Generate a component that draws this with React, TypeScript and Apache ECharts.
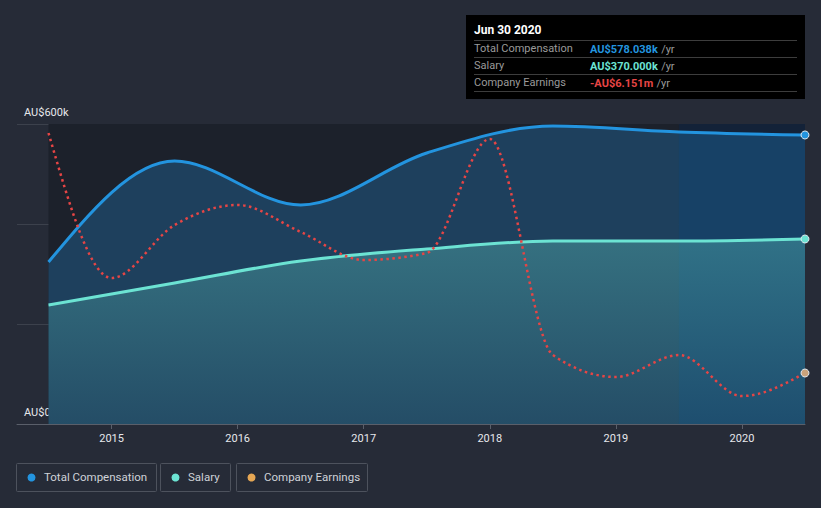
import React, { useEffect, useRef } from "react";
import * as echarts from "echarts";

// Fiscal years end June 30
const fyEnds = [2014.5, 2015.5, 2016.5, 2017.5, 2018.5, 2019.5, 2020.5];
const totalComp = [324, 526, 438, 542, 596, 584, 578.038]; // AU$k
const salary = [238, 282, 326, 350, 366, 366, 370]; // AU$k
// Company earnings, half-yearly
const earnPeriods = [2014.5, 2015, 2015.5, 2016, 2016.5, 2017, 2017.5, 2018, 2018.5, 2019, 2019.5, 2020, 2020.5];
const earnings = [5.85, -1.4, 1.25, 2.25, 0.9, -0.5, -0.15, 5.55, -5.25, -6.35, -5.25, -7.3, -6.151]; // AU$m
const yearTicks = [2015, 2016, 2017, 2018, 2019, 2020];
const yLabels: Record<number, string> = { 0: "AU$0", 600: "AU$600k" };

const BG = "#262b37";
const BLUE = "#2394df";
const TEAL = "#6ce3d3";
const RED = "#e64545";
const ORANGE = "#e6a754";
const FONT = "Roboto, 'Noto Sans', sans-serif";

function pairs(xs: number[], ys: number[]) {
  return xs.map((x, i) => [x, ys[i]]);
}

// monotone-x cubic path through pixel points
function monotonePath(pts: number[][]): string {
  const n = pts.length;
  if (n < 2) return "";
  const sign = (v: number) => (v < 0 ? -1 : 1);
  const tang: number[] = new Array(n).fill(0);
  const slope = (i: number) => (pts[i + 1][1] - pts[i][1]) / (pts[i + 1][0] - pts[i][0]);
  for (let i = 1; i < n - 1; i++) {
    const h0 = pts[i][0] - pts[i - 1][0];
    const h1 = pts[i + 1][0] - pts[i][0];
    const s0 = (pts[i][1] - pts[i - 1][1]) / h0;
    const s1 = (pts[i + 1][1] - pts[i][1]) / h1;
    const p = (s0 * h1 + s1 * h0) / (h0 + h1);
    tang[i] = (sign(s0) + sign(s1)) * Math.min(Math.abs(s0), Math.abs(s1), 0.5 * Math.abs(p)) || 0;
  }
  if (n === 2) {
    tang[0] = tang[1] = slope(0);
  } else {
    tang[0] = (3 * slope(0) - tang[1]) / 2;
    tang[n - 1] = (3 * slope(n - 2) - tang[n - 2]) / 2;
  }
  let d = `M${pts[0][0]},${pts[0][1]}`;
  for (let i = 0; i < n - 1; i++) {
    const [x0, y0] = pts[i];
    const [x1, y1] = pts[i + 1];
    const dx = (x1 - x0) / 3;
    d += `C${x0 + dx},${y0 + dx * tang[i]},${x1 - dx},${y1 - dx * tang[i + 1]},${x1},${y1}`;
  }
  return d;
}

function curveSeries(opts: {
  name: string;
  xs: number[];
  ys: number[];
  color: string;
  endColor: string;
  yAxisIndex: number;
  z: number;
  width: number;
  dash?: number[];
  areaFill?: any;
}) {
  const { xs, ys } = opts;
  return {
    name: opts.name,
    type: "custom",
    yAxisIndex: opts.yAxisIndex,
    z: opts.z,
    silent: true,
    clip: false,
    encode: { x: 0, y: 1 },
    data: pairs(xs, ys),
    renderItem: (params: any, api: any) => {
      if (params.dataIndex !== 0) return null;
      const pts = xs.map((x, i) => api.coord([x, ys[i]]));
      const line = monotonePath(pts);
      const children: any[] = [];
      if (opts.areaFill) {
        const base = api.coord([xs[0], 0])[1];
        const last = pts[pts.length - 1];
        const area = `${line}L${last[0]},${base}L${pts[0][0]},${base}Z`;
        children.push({
          type: "path",
          shape: { pathData: area },
          style: { fill: opts.areaFill, stroke: "none" },
        });
      }
      children.push({
        type: "path",
        shape: { pathData: line },
        style: {
          fill: "none",
          stroke: opts.color,
          lineWidth: opts.width,
          lineDash: opts.dash || null,
          lineCap: "butt",
        },
      });
      const last = pts[pts.length - 1];
      children.push({
        type: "circle",
        shape: { cx: last[0], cy: last[1], r: 4 },
        style: { fill: opts.endColor, stroke: "#dfe8f0", lineWidth: 1 },
      });
      return { type: "group", children };
    },
  };
}

export default function App() {
  const ref = useRef<HTMLDivElement>(null);
  useEffect(() => {
    if (!ref.current) return;
    const chart = echarts.init(ref.current, undefined, { renderer: "svg" });
    const firstX = fyEnds[0];
    const lastX = fyEnds[fyEnds.length - 1];

    const legendItems = [
      { name: "Total Compensation", color: BLUE, x: 16, w: 140 },
      { name: "Salary", color: TEAL, x: 160, w: 70 },
      { name: "Company Earnings", color: ORANGE, x: 236, w: 131 },
    ];

    const tipRows = [
      { label: "Total Compensation", value: "AU$578.038k", color: BLUE },
      { label: "Salary", value: "AU$370.000k", color: TEAL },
      { label: "Company Earnings", value: "-AU$6.151m", color: RED },
    ];

    const graphic: any[] = [];
    graphic.push({
      type: "rect",
      shape: { x: 466, y: 15, width: 339, height: 84 },
      style: { fill: "#000000" },
      z: 100,
    });
    graphic.push({
      type: "text",
      x: 474,
      y: 24,
      style: { text: "Jun 30 2020", fill: "#ffffff", font: `bold 12px ${FONT}` },
      z: 101,
    });
    [40, 57, 74, 91].forEach((y) =>
      graphic.push({
        type: "line",
        shape: { x1: 474, y1: y + 0.5, x2: 797, y2: y + 0.5 },
        style: { stroke: "#3d3d3d", lineWidth: 1 },
        z: 101,
      })
    );
    tipRows.forEach((r, i) => {
      const y = 43 + i * 17;
      graphic.push({
        type: "text",
        x: 474,
        y,
        style: { text: r.label, fill: "#9a9a9a", font: `11px ${FONT}` },
        z: 101,
      });
      graphic.push({
        type: "text",
        x: 590,
        y,
        style: {
          text: `{v|${r.value}} {u|/yr}`,
          rich: {
            v: { fill: r.color, font: `bold 11px ${FONT}` },
            u: { fill: "#9a9a9a", font: `11px ${FONT}` },
          },
        },
        z: 101,
      });
    });
    legendItems.forEach((it) => {
      graphic.push({
        type: "rect",
        shape: { x: it.x + 0.5, y: 463.5, width: it.w, height: 28, r: 1 },
        style: { fill: "transparent", stroke: "#4d525d", lineWidth: 1 },
      });
      graphic.push({
        type: "circle",
        shape: { cx: it.x + 15.5, cy: 477.5, r: 4 },
        style: { fill: it.color },
      });
      graphic.push({
        type: "text",
        x: it.x + 28,
        y: 471,
        style: { text: it.name, fill: "#cfd2d8", font: `11.5px ${FONT}` },
      });
    });

    chart.setOption({
      animation: false,
      backgroundColor: BG,
      textStyle: { fontFamily: FONT },
      grid: { left: 17, right: 16, top: 124, bottom: 84, containLabel: false },
      xAxis: {
        type: "value",
        min: 2014.25,
        max: 2020.5,
        axisLine: { show: true, lineStyle: { color: "#5a5f6a", width: 1 } },
        axisTick: { show: true, customValues: yearTicks, length: 5, lineStyle: { color: "#5a5f6a" } },
        axisLabel: {
          customValues: yearTicks,
          color: "#e6e8ec",
          fontSize: 11,
          margin: 9,
          formatter: (v: number) => String(Math.round(v)),
        },
        splitLine: { show: false },
      },
      yAxis: [
        {
          type: "value",
          min: 0,
          max: 600,
          interval: 200,
          axisLine: { show: false },
          axisTick: { show: false },
          axisLabel: {
            inside: true,
            margin: 7,
            verticalAlign: "bottom",
            padding: [0, 0, 6, 0],
            color: "#e6e8ec",
            fontSize: 11,
            formatter: (v: number) => yLabels[v] ?? "",
          },
          splitLine: { show: true, lineStyle: { color: "#3c414c", width: 1 } },
        },
        {
          type: "value",
          min: -8.7,
          max: 6.3,
          show: false,
          splitLine: { show: false },
        },
      ],
      graphic,
      series: [
        {
          name: "bg",
          type: "line",
          data: [[firstX, 0]],
          symbol: "none",
          lineStyle: { opacity: 0 },
          z: 1,
          silent: true,
          markArea: {
            silent: true,
            itemStyle: { color: "#1c212b" },
            data: [
              [{ xAxis: firstX, yAxis: 600 }, { xAxis: 2019.5, yAxis: 0 }],
              [
                { xAxis: 2019.5, yAxis: 600, itemStyle: { color: "#132238" } },
                { xAxis: lastX, yAxis: 0, itemStyle: { color: "#132238" } },
              ],
            ],
          },
        },
        curveSeries({
          name: "Total Compensation",
          xs: fyEnds,
          ys: totalComp,
          color: BLUE,
          endColor: BLUE,
          yAxisIndex: 0,
          z: 3,
          width: 3,
          areaFill: "rgba(35,148,223,0.28)",
        }),
        curveSeries({
          name: "Salary",
          xs: fyEnds,
          ys: salary,
          color: TEAL,
          endColor: TEAL,
          yAxisIndex: 0,
          z: 4,
          width: 3,
          areaFill: new echarts.graphic.LinearGradient(0, 0, 0, 1, [
            { offset: 0, color: "rgba(108,227,211,0.3)" },
            { offset: 1, color: "rgba(108,227,211,0.08)" },
          ]),
        }),
        curveSeries({
          name: "Company Earnings",
          xs: earnPeriods,
          ys: earnings,
          color: RED,
          endColor: "#c9a27a",
          yAxisIndex: 1,
          z: 5,
          width: 2.5,
          dash: [2.5, 3.5],
        }),
      ],
    });
    return () => chart.dispose();
  }, []);
  return <div ref={ref} style={{ width: 821, height: 508, position: "absolute", left: 0, top: 0 }} />;
}
